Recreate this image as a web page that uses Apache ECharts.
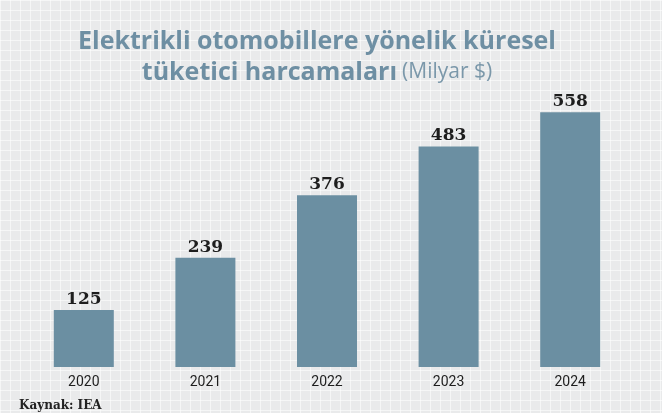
<!DOCTYPE html>
<html>
<head>
<meta charset="utf-8">
<script src="https://cdn.jsdelivr.net/npm/echarts@6/dist/echarts.min.js"></script>
<style>
    html, body { margin: 0; padding: 0; }
    /* açık gri zemin + ince beyaz kareler */
    #chart {
        width: 662px; height: 413px;
        background-color: #e9eaeb;
        background-image:
            linear-gradient(to right, rgba(255,255,255,0.55) 1px, transparent 1px),
            linear-gradient(to bottom, rgba(255,255,255,0.55) 1px, transparent 1px);
        background-size: 10px 10px;
    }
</style>
</head>
<body>
<div id="chart"></div>
<script type="text/javascript">
    // veriler
    var years = ['2020', '2021', '2022', '2023', '2024'];
    var spending = [125, 239, 376, 483, 558];

    var chart = echarts.init(document.getElementById('chart'));

    var option = {
        backgroundColor: 'transparent',
        title: [{
            text: '{b|Elektrikli otomobillere yönelik küresel}\n{b|tüketici harcamaları} {n|(Milyar $)}',
            left: 312,
            top: 21,
            textAlign: 'center',
            textStyle: {
                rich: {
                    b: { fontFamily: 'Open Sans', fontWeight: 'bold', fontSize: 25, color: '#6e8fa3', lineHeight: 31 },
                    n: { fontFamily: 'Open Sans', fontWeight: 'normal', fontSize: 21, color: '#7b98aa', lineHeight: 31 }
                }
            }
        }, {
            text: 'Kaynak: IEA',
            left: 14,
            top: 395,
            textStyle: { fontFamily: 'DejaVu Serif', fontWeight: 'bold', fontSize: 12, color: '#222' }
        }],
        grid: {
            left: 23,
            right: 31,
            top: 93,
            bottom: 46
        },
        xAxis: {
            type: 'category',
            data: years,
            axisLine: { show: false },
            axisTick: { show: false },
            axisLabel: {
                margin: 8,
                fontFamily: 'Liberation Sans Narrow, Roboto, sans-serif',
                fontSize: 14,
                color: '#1e1e1e'
            }
        },
        yAxis: {
            type: 'value',
            min: 0,
            max: 600,
            show: false,
            splitLine: { show: false }
        },
        series: [{
            name: 'Harcama',
            type: 'bar',
            data: spending,
            barWidth: 60,
            itemStyle: { color: '#6b8fa2' },
            label: {
                show: true,
                position: 'top',
                distance: 2,
                fontFamily: 'DejaVu Serif',
                fontWeight: 'bold',
                fontSize: 17,
                color: '#1e1e1e'
            }
        }]
    };

    chart.setOption(option);
</script>
</body>
</html>
